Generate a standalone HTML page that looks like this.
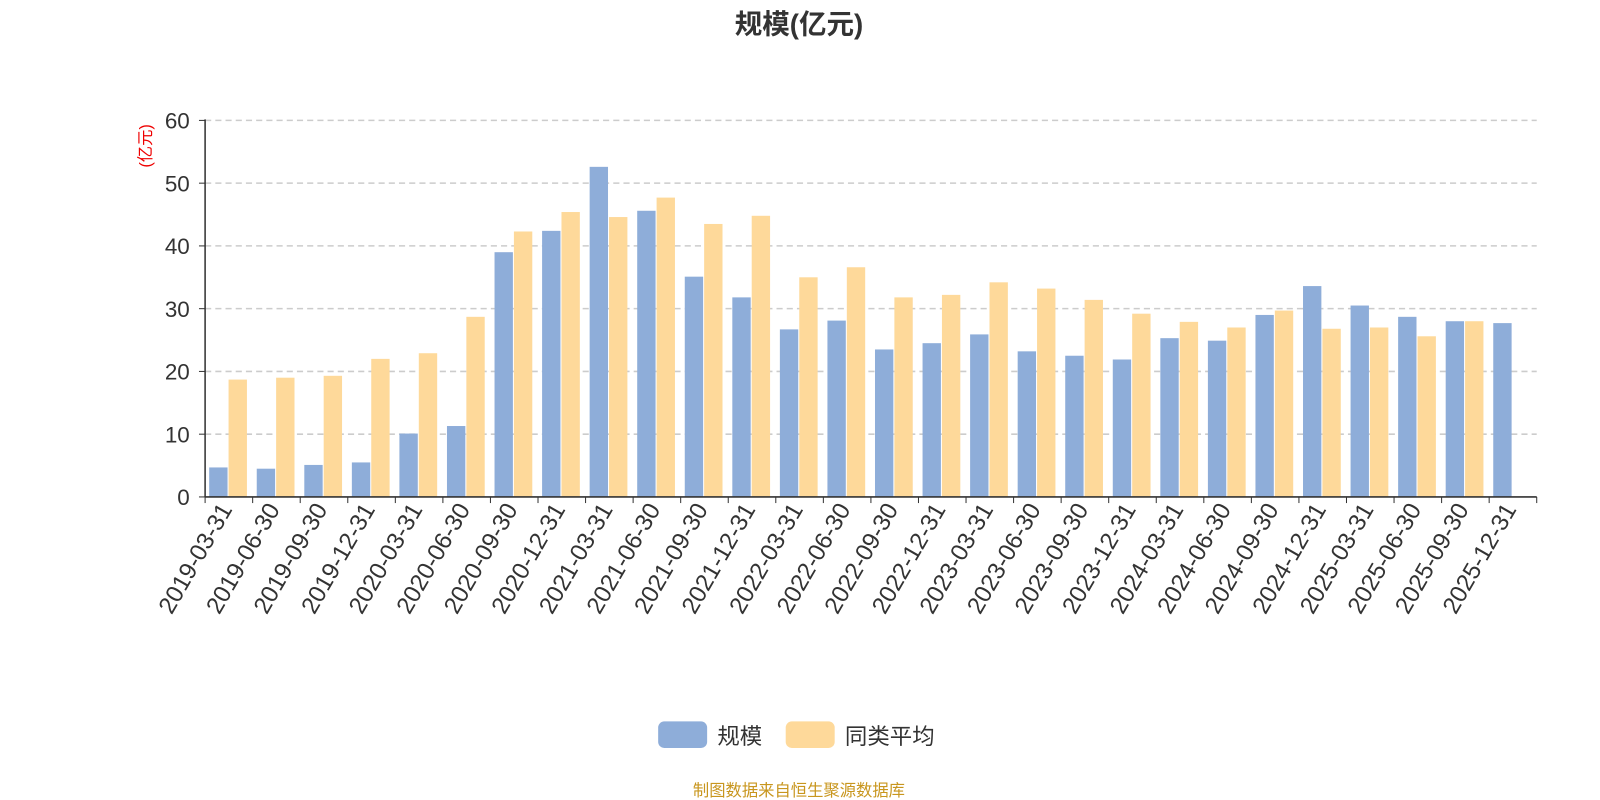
<!DOCTYPE html>
<html><head><meta charset="utf-8"><style>
body{margin:0;background:#fff;overflow:hidden;}
svg{display:block;}
svg text{font-family:"Liberation Sans","Noto Sans CJK SC",sans-serif;}
</style></head><body>
<svg width="1600" height="800" xmlns="http://www.w3.org/2000/svg" id="c">
<g transform="scale(1.0204)">
<text x="783" y="33" text-anchor="middle" font-size="27" font-weight="bold" fill="#333">规模(亿元)</text>
<text transform="translate(148,143) rotate(-90)" text-anchor="middle" font-size="16" fill="#e00">(亿元)</text>
<g id="grid"></g>
<g id="bars"></g>
<line x1="201" y1="117" x2="201" y2="487" stroke="#333" stroke-width="1.5"/>
<line x1="201" y1="487" x2="1506" y2="487" stroke="#333" stroke-width="1.5"/>
<g id="ticks"></g>
<rect x="645" y="707" width="48" height="26" rx="6" fill="#8eadd9"/>
<text x="703" y="729" font-size="22" fill="#333">规模</text>
<rect x="770" y="707" width="48" height="26" rx="6" fill="#fed99a"/>
<text x="828" y="729" font-size="22" fill="#333">同类平均</text>
<text x="783" y="780" text-anchor="middle" font-size="16" fill="#c8961e">制图数据来自恒生聚源数据库</text>
</g>
</svg>
<script>
var NS="http://www.w3.org/2000/svg";
function el(p,t,a,tx){var e=document.createElementNS(NS,t);for(var k in a)e.setAttribute(k,a[k]);if(tx!==undefined)e.textContent=tx;document.getElementById(p).appendChild(e);}
var y0=487,s=6.15;
for(var v=0;v<=60;v+=10){var y=y0-v*s;
 if(v>0)el("grid","line",{x1:201,x2:1506,y1:y,y2:y,stroke:"#ccc","stroke-dasharray":"6,4","stroke-width":1.5});
 el("grid","line",{x1:195,x2:201,y1:y,y2:y,stroke:"#333"});
 el("grid","text",{x:186,y:y+8,"text-anchor":"end","font-size":22,fill:"#333"},v);}
var labels=[],yrs=[2019,2020,2021,2022,2023,2024,2025],q=["03-31","06-30","09-30","12-31"];
yrs.forEach(function(y){q.forEach(function(d){labels.push(y+"-"+d);});});
var b=[4.7,4.5,5.1,5.5,10.1,11.3,39,42.4,52.6,45.6,35.1,31.8,26.7,28.1,23.5,24.5,25.9,23.2,22.5,21.9,25.3,24.9,29.0,33.6,30.5,28.7,28.0,27.7];
var o=[18.7,19.0,19.3,22.0,22.9,28.7,42.3,45.4,44.6,47.7,43.5,44.8,35.0,36.6,31.8,32.2,34.2,33.2,31.4,29.2,27.9,27.0,29.7,26.8,27.0,25.6,28.0,null];
var w=(1506-201)/28;
for(var i=0;i<28;i++){var x=201+i*w;
 el("bars","rect",{x:x+4,y:y0-b[i]*s,width:18,height:b[i]*s,fill:"#8eadd9"});
 if(o[i]!==null)el("bars","rect",{x:x+23,y:y0-o[i]*s,width:18,height:o[i]*s,fill:"#fed99a"});
 el("ticks","line",{x1:x,x2:x,y1:487,y2:493,stroke:"#333"});
 var cx=x+w/2;
 el("ticks","text",{transform:"translate("+(cx+4)+",499) rotate(-60)","text-anchor":"end","font-size":23.5,fill:"#333"},labels[i]);}
el("ticks","line",{x1:1506,x2:1506,y1:487,y2:493,stroke:"#333"});
</script>
</body></html>
